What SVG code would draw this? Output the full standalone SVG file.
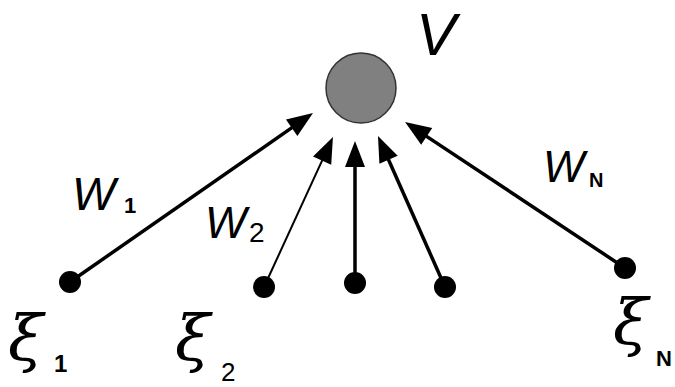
<svg xmlns="http://www.w3.org/2000/svg" width="675" height="387" viewBox="0 0 675 387">
<defs>
<style>
.lbl{font-family:"Liberation Sans",Arial,sans-serif;fill:#000}
.xi{font-family:"DejaVu Serif","Liberation Serif",serif;font-style:italic;fill:#000}
.it{font-style:italic}
.b{font-weight:bold}
.edge{stroke:#000;stroke-width:3.5;fill:none}
.dot{fill:#000}
</style>
<marker id="ah" markerUnits="userSpaceOnUse" viewBox="-8 -12 30 24" refX="0" refY="0" markerWidth="30" markerHeight="24" orient="auto">
<path d="M-6,-10 L20,0 L-6,10 z" fill="#000"/>
</marker>
</defs>
<rect width="675" height="387" fill="#fff"/>
<g id="connectors">
<line class="edge" x1="70" y1="282" x2="296.6" y2="124.4" marker-end="url(#ah)"/>
<line class="edge" style="stroke-width:2" x1="264" y1="287" x2="324.6" y2="155.2" marker-end="url(#ah)"/>
<line class="edge" x1="355" y1="283" x2="355" y2="161" marker-end="url(#ah)"/>
<line class="edge" x1="445" y1="287" x2="386.1" y2="154.3" marker-end="url(#ah)"/>
<line class="edge" x1="625" y1="268" x2="421.7" y2="133.1" marker-end="url(#ah)"/>
</g>
<g id="neuron">
<circle cx="361" cy="88" r="35" fill="#808080" stroke="#333" stroke-width="1.5"/>
<text class="lbl it" x="416" y="55" font-size="60">V</text>
</g>
<g id="input1">
<circle class="dot" cx="70" cy="282" r="11"/>
<text class="xi" x="8" y="360" font-size="64">ξ</text>
<text class="lbl b" x="54" y="372" font-size="24">1</text>
</g>
<g id="input2">
<circle class="dot" cx="264" cy="287" r="11"/>
<text class="xi" x="175" y="360" font-size="64">ξ</text>
<text class="lbl" x="221" y="381" font-size="26">2</text>
</g>
<g id="input3">
<circle class="dot" cx="355" cy="283" r="11"/>
</g>
<g id="input4">
<circle class="dot" cx="445" cy="287" r="11"/>
</g>
<g id="inputN">
<circle class="dot" cx="625" cy="268" r="11"/>
<text class="xi" x="613" y="344" font-size="64">ξ</text>
<text class="lbl b" x="656" y="366" font-size="22">N</text>
</g>
<g id="weights">
<text class="lbl it" x="72" y="210" font-size="46">W</text>
<text class="lbl b" x="124" y="213" font-size="22">1</text>
<text class="lbl it" x="205" y="238" font-size="44">W</text>
<text class="lbl" x="249" y="242" font-size="28">2</text>
<text class="lbl it" x="543" y="182" font-size="44">W</text>
<text class="lbl b" x="589" y="187" font-size="20">N</text>
</g>
</svg>
